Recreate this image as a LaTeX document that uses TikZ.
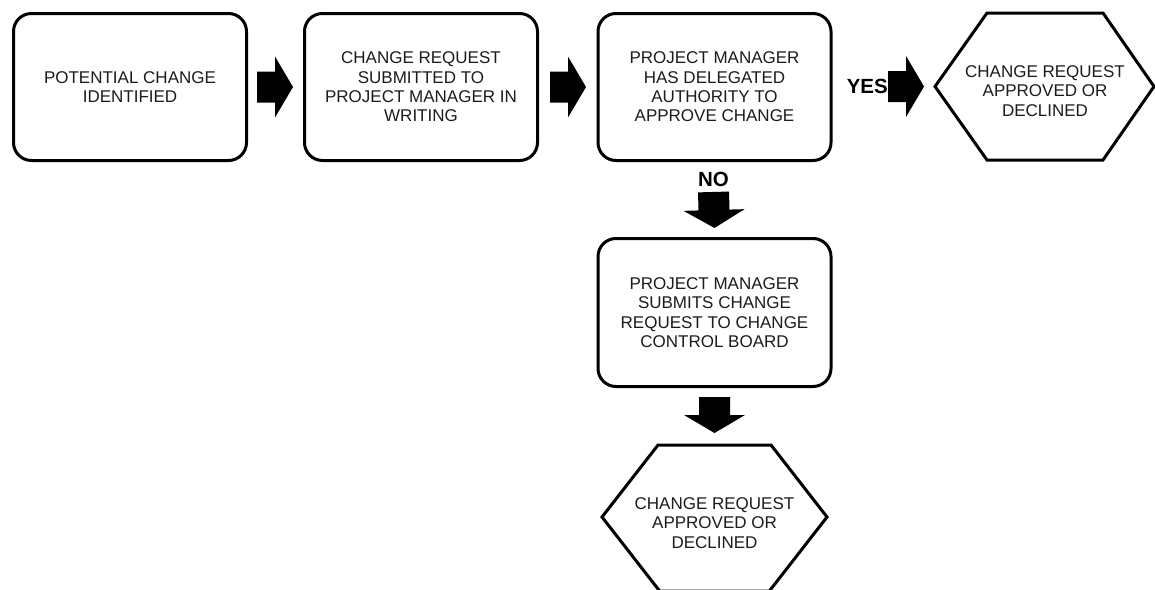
\documentclass[tikz,border=0pt]{standalone}
\usepackage{fontspec}
\setmainfont{Liberation Sans}
\usetikzlibrary{calc}

\definecolor{textc}{HTML}{1C1C1C}

\tikzset{
  % rounded process box
  stepbox/.style={draw, line width=3pt, rounded corners=18pt,
    minimum width=233pt, minimum height=147pt, inner sep=0pt,
    align=center, text=textc, font=\fontsize{17}{19.3}\selectfont},
  % text inside a hexagonal outcome
  hexlabel/.style={inner sep=0pt, align=center, text=textc,
    font=\fontsize{17}{19.3}\selectfont},
  hexline/.style={line width=3pt, line join=miter},
  % bold branch label
  branch/.style={inner sep=0pt, font=\fontsize{20.5}{22}\selectfont\bfseries},
  % filled block arrow from start point to target point
  blockarrow/.style={fill=black, to path={
    ($(\tikztostart)!15.5pt!90:(\tikztotarget)$)
    -- ($(\tikztotarget)!18pt!(\tikztostart)!15.5pt!-90:(\tikztostart)$)
    -- ($(\tikztotarget)!18pt!(\tikztostart)!30.5pt!-90:(\tikztostart)$)
    -- (\tikztotarget)
    -- ($(\tikztotarget)!18pt!(\tikztostart)!30.5pt!90:(\tikztostart)$)
    -- ($(\tikztotarget)!18pt!(\tikztostart)!15.5pt!90:(\tikztostart)$)
    -- ($(\tikztostart)!15.5pt!-90:(\tikztotarget)$) -- cycle}}
}

\begin{document}
\begin{tikzpicture}[x=1pt, y=-1pt]
  \fill[white] (0,0) rectangle (1155,589);
  \useasboundingbox (0,0) rectangle (1155,589);

  % process boxes
  \node[stepbox] (b1) at (130,87) {POTENTIAL CHANGE\\IDENTIFIED};
  \node[stepbox] (b2) at (421,87) {CHANGE REQUEST\\SUBMITTED TO\\PROJECT MANAGER IN\\WRITING};
  \node[stepbox] (b3) at (714.5,87) {PROJECT MANAGER\\HAS DELEGATED\\AUTHORITY TO\\APPROVE CHANGE};
  \node[stepbox, minimum height=148pt] (b4) at (714.5,312.5) {PROJECT MANAGER\\SUBMITS CHANGE\\REQUEST TO CHANGE\\CONTROL BOARD};

  % outcome on the YES branch
  \node[hexlabel] (h1) at (1045,91) {CHANGE REQUEST\\APPROVED OR\\DECLINED};
  \coordinate (h1c) at ($(h1)+(0,-4.5)$);
  \coordinate (h1w) at ($(h1c)+(-110,0)$);
  \draw[hexline] (h1w) -- ($(h1c)+(-58,-73.5)$) -- ($(h1c)+(58,-73.5)$)
    -- ($(h1c)+(109,0)$) -- ($(h1c)+(58,73.5)$) -- ($(h1c)+(-58,73.5)$) -- cycle;

  % outcome after the change control board
  \node[hexlabel] (h2) at (714.5,523) {CHANGE REQUEST\\APPROVED OR\\DECLINED};
  \coordinate (h2c) at ($(h2)+(0,-6)$);
  \coordinate (h2n) at ($(h2c)+(0,-72)$);
  \draw[hexline] ($(h2c)+(-112.5,0)$) -- ($(h2c)+(-56.5,-72)$) -- ($(h2c)+(56.5,-72)$)
    -- ($(h2c)+(112.5,0)$) -- ($(h2c)+(54.9,74)$) -- ($(h2c)+(-54.9,74)$) -- cycle;

  % branch labels
  \node[branch, anchor=east] (yes) at (888,86.5) {YES};
  \node[branch] (no) at (713.5,179.5) {NO};

  % block arrows
  \fill[blockarrow] ([xshift=9pt]b1.east) to ([xshift=-10pt]b2.west);
  \fill[blockarrow] ([xshift=11pt]b2.east) to ([xshift=-10.5pt]b3.west);
  \fill[blockarrow] (yes.east) to ([xshift=-11pt]h1w);
  \fill[blockarrow] ([yshift=-5pt]no.south) to ([yshift=9pt]b4.north);
  \fill[blockarrow] ([yshift=-9pt]b4.south) to ([yshift=12pt]h2n);
\end{tikzpicture}
\end{document}
